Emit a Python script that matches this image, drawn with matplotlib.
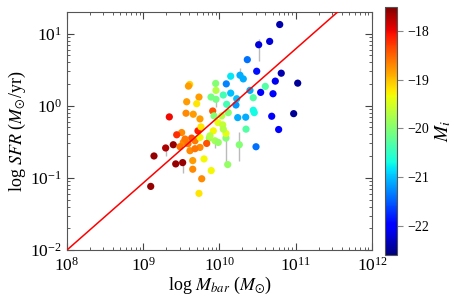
import numpy as np
import matplotlib
matplotlib.use("Agg")
import matplotlib.pyplot as plt

plt.rcParams['font.family'] = 'serif'
plt.rcParams['font.serif'] = ['Liberation Serif', 'DejaVu Serif']
plt.rcParams['mathtext.fontset'] = 'stix'

# log10 of baryonic mass (Msun)
log_mbar = [10.79, 10.514, 10.658, 10.365, 10.488, 10.81, 10.732, 11.026, 10.147, 10.269,
            10.312, 10.089, 9.95, 9.954, 10.147, 10.05, 9.889, 9.954, 10.40, 10.601,
            10.54, 10.702, 10.443, 10.226, 10.094, 10.216, 9.911, 9.928, 10.115, 10.029,
            10.443, 10.456, 10.239, 10.344, 10.685, 10.973, 10.776, 10.348, 10.479, 10.26,
            10.108, 10.085, 10.085, 9.98, 10.042, 10.05, 9.919, 9.866, 9.941, 9.984,
            9.832, 9.744, 9.797, 9.892, 9.767, 9.731, 9.649, 9.649, 9.613, 9.525,
            9.426, 9.517, 9.394, 9.294, 9.141, 9.098, 9.342, 9.609, 9.593, 9.57,
            9.731, 9.701, 9.656, 9.561, 9.744, 9.504, 9.718, 9.439, 9.635, 9.548,
            9.587, 9.679, 9.744, 9.875, 9.757, 9.482, 9.679]
# log10 of SFR (Msun/yr)
log_sfr = [1.127, 0.847, 0.893, 0.64, 0.479, 0.452, 0.342, 0.314, 0.41, 0.424,
           0.373, 0.304, 0.31, 0.214, 0.176, 0.149, 0.121, 0.09, 0.214, 0.269,
           0.186, 0.167, 0.112, 0.098, 0.021, 0.011, -0.072, -0.14, -0.095, -0.14,
           -0.062, -0.095, -0.164, -0.158, -0.145, -0.109, -0.329, -0.324, -0.568, -0.54,
           -0.815, -0.448, -0.384, -0.233, -0.264, -0.324, -0.347, -0.448, -0.485, -0.508,
           -0.522, -0.577, -0.737, -0.898, -1.012, -1.215, -0.76, -0.88, -0.623, -0.508,
           -0.806, -0.788, -0.54, -0.585, -0.696, -1.118, -0.154, 0.296, 0.273, 0.056,
           0.121, 0.029, -0.117, -0.103, -0.182, -0.371, -0.347, -0.402, -0.448, -0.461,
           -0.526, -0.485, -0.439, -0.416, -0.292, -0.567, -0.595]
# absolute i-band magnitude
m_i = [-22.4, -22.2, -22.2, -21.4, -21.9, -22.4, -22.1, -22.5, -20.8, -21.1,
       -21.1, -21.3, -20.0, -19.7, -21.0, -20.4, -20.1, -20.1, -21.1, -20.3,
       -22.0, -22.0, -20.3, -21.0, -20.4, -21.2, -18.4, -20.0, -20.0, -19.7,
       -20.7, -20.7, -21.1, -21.1, -22.0, -22.5, -22.0, -20.3, -21.4, -20.0,
       -19.9, -20.0, -19.4, -19.4, -19.6, -19.7, -19.3, -19.9, -19.8, -19.9,
       -18.4, -18.7, -19.3, -19.3, -18.7, -19.2, -18.8, -18.7, -18.7, -18.7,
       -17.6, -17.6, -17.6, -17.7, -17.6, -17.6, -18.0, -19.1, -18.8, -18.8,
       -18.8, -19.2, -18.8, -18.7, -18.8, -18.7, -18.1, -18.2, -18.4, -18.6,
       -18.6, -18.6, -19.3, -19.7, -19.2, -18.6, -18.6]

# error bars (log dex) for a few galaxies: index, lower, upper
err_idx = [1, 39, 41, 61, 63, 48, 9, 17]
err_lo = [0.22, 0.22, 0.36, 0.15, 0.11, 0.10, 0.0, 0.10]
err_hi = [0.08, 0.17, 0.10, 0.0, 0.03, 0.0, 0.10, 0.0]

# fit relation
fit_slope = 0.93
fit_anchor_logm = 8.0
fit_anchor_logsfr = -2.0

M = 10 ** np.array(log_mbar)
S = 10 ** np.array(log_sfr)

fig = plt.figure(figsize=(4.63, 2.99), dpi=100)
ax = fig.add_axes([0.1447, 0.1639, 0.6587, 0.796])
cax = fig.add_axes([0.8309, 0.1472, 0.0272, 0.8304])

ei = np.array(err_idx)
lo = S[ei] - 10 ** (np.array(log_sfr)[ei] - np.array(err_lo))
hi = 10 ** (np.array(log_sfr)[ei] + np.array(err_hi)) - S[ei]
ax.errorbar(M[ei], S[ei], yerr=[lo, hi], fmt='none', ecolor='#bbbbbb', elinewidth=1.0, zorder=1)

sc = ax.scatter(M, S, c=m_i, cmap='jet', vmin=-22.6, vmax=-17.5, s=27, edgecolors='none', zorder=2)

lm = np.linspace(8, 12, 50)
ax.plot(10 ** lm, 10 ** (fit_anchor_logsfr + fit_slope * (lm - fit_anchor_logm)), color='red', lw=1.1, zorder=3)

ax.set_xscale('log')
ax.set_yscale('log')
ax.set_xlim(1e8, 1e12)
ax.set_ylim(1e-2, 20)
ax.tick_params(which='both', direction='in', top=True, right=True, labelsize=12.5, colors='#444444', labelcolor='black')
ax.tick_params(axis='x', which='major', pad=5)
ax.tick_params(which='major', length=5)
ax.tick_params(which='minor', length=2.5)
for sp in ax.spines.values():
    sp.set_color('#555555')
ax.set_xlabel(r'log $M_{bar}$ ($M_{\odot}$)', fontsize=13, labelpad=0)
ax.set_ylabel(r'log $SFR$ ($M_{\odot}$/yr)', fontsize=13, labelpad=2)

cb = fig.colorbar(sc, cax=cax)
cb.set_ticks([-18, -19, -20, -21, -22])
cb.ax.tick_params(labelsize=10, colors='#888888', labelcolor='black', length=4)
cb.outline.set_edgecolor('#555555')
cb.set_label(r'$M_i$', fontsize=14, labelpad=3)

fig.savefig('out.png', dpi=100)
